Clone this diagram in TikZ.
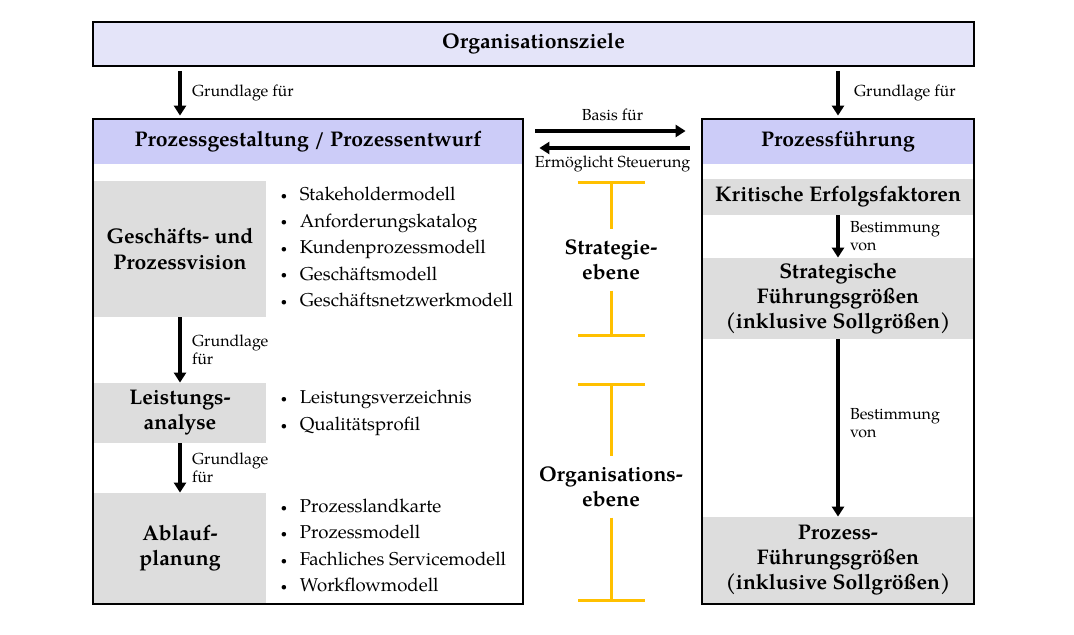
\documentclass[tikz,border=0pt]{standalone}
\usepackage{fontspec}
\setmainfont{TeX Gyre Pagella}
\usetikzlibrary{positioning, arrows.meta}
\definecolor{zielblau}{HTML}{E4E4F9}
\definecolor{kopfblau}{HTML}{CCCCF8}
\definecolor{kastengrau}{HTML}{DDDDDD}
\definecolor{ebenegelb}{HTML}{FFC000}
\newcommand{\itm}[1]{\makebox[9.5pt][l]{\raisebox{0.15ex}{\scalebox{0.6}{\textbullet}}}#1}

\begin{document}
\begin{tikzpicture}[x=0.5pt,y=-0.5pt,node distance=7pt,
    pfeil/.style={-{Triangle[length=5pt,width=6pt]}, line width=2pt},
    titel/.style={font=\fontsize{10.6}{12.6}\selectfont\bfseries, align=center, inner sep=0pt},
    kopf/.style={titel, fill=kopfblau, minimum height=22.5pt},
    kasten/.style={titel, fill=kastengrau, minimum width=86pt},
    rkasten/.style={titel, fill=kastengrau, minimum width=135pt},
    rahmen/.style={draw, line width=1pt, minimum height=242.5pt, inner sep=0pt},
    liste/.style={font=\fontsize{9.3}{13.25}\selectfont, align=left, inner sep=0pt},
    klein/.style={font=\fontsize{8}{9}\selectfont, align=left, inner sep=2pt},
    ebene/.style={draw=ebenegelb, line width=1.5pt},
    stufe/.style={titel, inner sep=5pt}]
  \useasboundingbox (0,0) rectangle (1074,635);

  % Ziele oben
  \node[titel, draw, line width=1pt, fill=zielblau, minimum width=440.5pt,
        minimum height=22pt] (ziel) at (533.5,44) {Organisationsziele};

  % linke Spalte
  \node[kopf, minimum width=215pt] (pg) at (308,141.5) {Prozessgestaltung / Prozessentwurf};
  \node[kasten, minimum height=68pt] (gpv) at (180,249) {Geschäfts- und\\Prozessvision};
  \node[kasten, minimum height=30pt] (la) at (180,413) {Leistungs-\\analyse};
  \node[kasten, minimum height=55pt] (ap) at (180,548) {Ablauf-\\planung};
  \node[liste, right=7pt of gpv, yshift=1pt] (l_gpv) {\itm{Stakeholdermodell}\\\itm{Anforderungskatalog}\\
    \itm{Kundenprozessmodell}\\\itm{Geschäftsmodell}\\\itm{Geschäftsnetzwerkmodell}};
  \node[liste, right=7pt of la] (l_la) {\itm{Leistungsverzeichnis}\\\itm{Qualitätsprofil}};
  \node[liste, right=7pt of ap, yshift=1.2pt] (l_ap) {\itm{Prozesslandkarte}\\\itm{Prozessmodell}\\
    \itm{Fachliches Servicemodell}\\\itm{Workflowmodell}};
  \node[rahmen, minimum width=215pt] (links) at (308,361.5) {};

  % rechte Spalte
  \node[kopf, minimum width=136pt] (pf) at (838,141.5) {Prozessführung};
  \node[rkasten, minimum height=18pt] (kef) at (838,197) {Kritische Erfolgsfaktoren};
  \node[rkasten, minimum height=40.5pt] (sfg) at (838,298.5)
    {Strategische\\Führungsgrößen\\(inklusive Sollgrößen)};
  \node[rkasten, minimum height=43pt] (pfg) at (838,560)
    {Prozess-\\Führungsgrößen\\(inklusive Sollgrößen)};
  \node[rahmen, minimum width=136pt] (rechts) at (838,361.5) {};

  % Ebenen in der Mitte
  \node[stufe] (strat) at (611,260) {Strategie-\\ebene};
  \node[stufe] (orga) at (611,487) {Organisations-\\ebene};
  \coordinate (s_o) at (611,181);
  \coordinate (s_u) at (611,337);
  \coordinate (o_o) at (611,383);
  \coordinate (o_u) at (611,602);
  \draw[ebene, {Bar[width=33.5pt]}-] (s_o) -- (strat.north);
  \draw[ebene, -{Bar[width=33.5pt]}] (strat.south) -- (s_u);
  \draw[ebene, {Bar[width=33.5pt]}-] (o_o) -- (orga.north);
  \draw[ebene, -{Bar[width=33.5pt]}] (orga.south) -- (o_u);

  % Pfeile
  \path[pfeil, shorten <=2pt, shorten >=1.5pt]
    (ziel.south -| gpv) edge node[klein, right=3pt] {Grundlage für} (pg.north -| gpv)
    (ziel.south -| pf) edge node[klein, right=5pt] {Grundlage für} (pf.north);
  \path[pfeil]
    (gpv) edge node[klein, right=3pt] {Grundlage\\für} (la)
    (la) edge node[klein, right=3pt] {Grundlage\\für} (ap)
    (kef) edge node[klein, right=3pt] {Bestimmung\\von} (sfg)
    (sfg) edge node[klein, right=3pt, pos=0.47] {Bestimmung\\von} (pfg);
  \draw[pfeil, shorten <=6pt, shorten >=8pt] ([yshift=5.25pt]pg.east) -- ([yshift=5.25pt]pf.west)
    node[klein, midway, above=2pt] {Basis für};
  \draw[pfeil, shorten <=6pt, shorten >=8pt] ([yshift=-3.25pt]pf.west) -- ([yshift=-3.25pt]pg.east)
    node[klein, midway, below=1pt] {Ermöglicht Steuerung};
\end{tikzpicture}
\end{document}
